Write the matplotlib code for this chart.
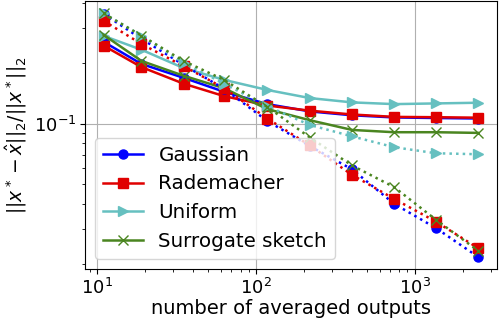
import numpy as np
import matplotlib
matplotlib.use('Agg')
import matplotlib.pyplot as plt

# number of averaged outputs
n_avg = [11, 19, 35, 63, 118, 218, 403, 742, 1363, 2512]

# solid lines
gauss = [0.255, 0.198, 0.169, 0.144, 0.125, 0.115, 0.110, 0.1073, 0.1066, 0.106]
radem = [0.244, 0.191, 0.158, 0.137, 0.123, 0.116, 0.111, 0.108, 0.1076, 0.107]
unif = [0.273, 0.233, 0.189, 0.165, 0.147, 0.134, 0.1275, 0.125, 0.126, 0.127]
surr = [0.276, 0.205, 0.173, 0.150, 0.118, 0.104, 0.093, 0.0906, 0.0906, 0.0899]

# dotted lines
gauss_dot = [0.351, 0.264, 0.196, 0.149, 0.103, 0.0774, 0.0592, 0.0399, 0.0302, 0.0217]
radem_dot = [0.324, 0.249, 0.193, 0.150, 0.106, 0.0779, 0.0556, 0.0422, 0.0325, 0.0240]
unif_dot = [0.353, 0.274, 0.200, 0.158, 0.122, 0.0985, 0.0864, 0.0763, 0.0712, 0.0704]
surr_dot = [0.353, 0.274, 0.205, 0.165, 0.121, 0.0854, 0.0619, 0.0483, 0.0332, 0.0233]

labels = ['Gaussian', 'Rademacher', 'Uniform', 'Surrogate sketch']
colors = ['#0000ff', '#e00000', '#66c0c0', '#4a8520']
markers = ['o', 's', '>', 'x']

fig = plt.figure(figsize=(5, 3.22), dpi=100)
ax = fig.add_subplot(111)
fig.subplots_adjust(left=0.17, right=0.994, top=0.996, bottom=0.164)

solid = [gauss, radem, unif, surr]
dotted = [gauss_dot, radem_dot, unif_dot, surr_dot]
for ys, lab, c, m in zip(solid, labels, colors, markers):
    ax.plot(n_avg, ys, color=c, marker=m, markersize=6.5, linewidth=1.8, label=lab)
for ys, c, m in zip(dotted, colors, markers):
    ax.plot(n_avg, ys, color=c, marker=m, markersize=6.5, linewidth=1.8, linestyle=':')

ax.set_xscale('log')
ax.set_yscale('log')
ax.grid(True, which='major', color='#b0b0b0', linewidth=0.8)
ax.tick_params(labelsize=13, pad=2.5)
ax.set_xlabel('number of averaged outputs', fontsize=14, labelpad=1)
ax.set_ylabel(r'$||x^* - \hat{x}||_2/||x^*||_2$', fontsize=13.5)
ax.legend(loc='lower left', fontsize=14.3)

plt.savefig('out.png', dpi=100)
